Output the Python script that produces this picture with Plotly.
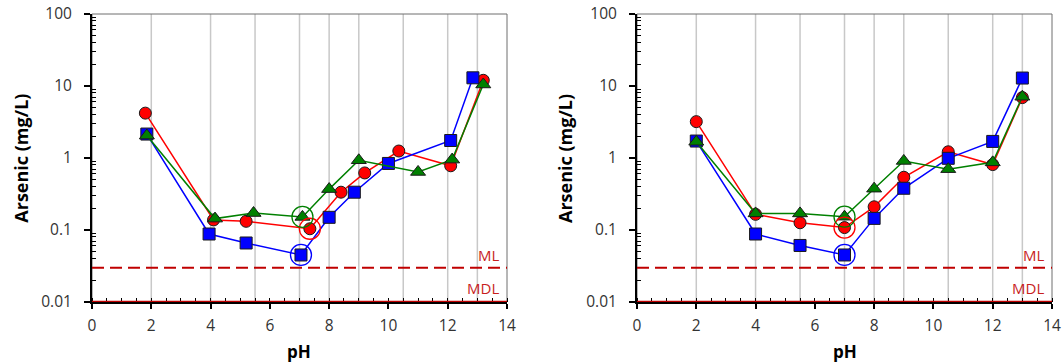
import plotly.graph_objects as go

# ---------------- data ----------------
# left panel
red_ph_L = [1.8, 4.1, 5.2, 7.35, 8.4, 9.2, 10.35, 12.1, 13.2]
red_as_L = [4.2, 0.138, 0.132, 0.104, 0.335, 0.62, 1.25, 0.78, 12.0]
blue_ph_L = [1.85, 3.95, 5.2, 7.05, 8.0, 8.85, 10.0, 12.1, 12.85]
blue_as_L = [2.15, 0.088, 0.066, 0.045, 0.15, 0.335, 0.84, 1.75, 13.0]
green_ph_L = [1.85, 4.15, 5.45, 7.1, 8.0, 9.0, 11.0, 12.15, 13.2]
green_as_L = [2.05, 0.144, 0.172, 0.152, 0.37, 0.93, 0.64, 0.95, 10.5]

# right panel
ph_R = [2, 4, 5.5, 7, 8, 9, 10.5, 12, 13]
red_as_R = [3.2, 0.165, 0.126, 0.108, 0.21, 0.54, 1.22, 0.81, 6.9]
blue_as_R = [1.72, 0.088, 0.061, 0.045, 0.145, 0.38, 0.99, 1.70, 12.9]
green_as_R = [1.68, 0.17, 0.17, 0.153, 0.375, 0.91, 0.70, 0.87, 7.1]

# highlighted point (ringed) index in each series
ring_idx = 3

# target pH grid lines
grid_ph = [2, 4, 5.5, 7, 8, 9, 10.5, 12, 13]

ML = 0.03
MDL = 0.01

x_ticks = [0, 2, 4, 6, 8, 10, 12, 14]
y_ticks = [0.01, 0.1, 1, 10, 100]
y_ticktext = ["0.01", "0.1", "1", "10", "100"]

# ---------------- styling ----------------
FONT = "Open Sans"
RED = "#ff0000"
BLUE = "#0000ff"
GREEN = "#008000"
LINE_RED = "#c00000"
LABEL_RED = "#c81e1e"

fig = go.Figure()

panels = [
    ("x", "y", [(red_ph_L, red_as_L, RED, "circle"),
                (blue_ph_L, blue_as_L, BLUE, "square"),
                (green_ph_L, green_as_L, GREEN, "triangle-up")]),
    ("x2", "y2", [(ph_R, red_as_R, RED, "circle"),
                  (ph_R, blue_as_R, BLUE, "square"),
                  (ph_R, green_as_R, GREEN, "triangle-up")]),
]

for xa, ya, series in panels:
    for xs, ys, col, sym in series:
        fig.add_trace(go.Scatter(
            x=xs, y=ys, xaxis=xa, yaxis=ya, mode="lines+markers",
            line=dict(color=col, width=1.5),
            marker=dict(symbol=sym, size=12 if sym != "triangle-up" else 13,
                        color=col, line=dict(color="#1a1a1a", width=1)),
            showlegend=False, cliponaxis=False))
    for xs, ys, col, sym in series:
        fig.add_trace(go.Scatter(
            x=[xs[ring_idx]], y=[ys[ring_idx]], xaxis=xa, yaxis=ya, mode="markers",
            marker=dict(symbol="circle-open", size=21, color=col,
                        line=dict(color=col, width=1.3)),
            showlegend=False, cliponaxis=False))

shapes = []
annotations = []
for xa, ya, xd, yd in [("x", "y", "x domain", "y domain"), ("x2", "y2", "x2 domain", "y2 domain")]:
    for g in grid_ph:
        shapes.append(dict(type="line", xref=xa, yref=yd, x0=g, x1=g, y0=0, y1=1,
                           line=dict(color="#c8c8c8", width=1.5), layer="below"))
    shapes.append(dict(type="rect", xref=xd, yref=yd, x0=0, x1=1, y0=0, y1=1,
                       line=dict(color="#6e6e6e", width=1), layer="below"))
    shapes.append(dict(type="line", xref=xd, yref=ya, x0=0, x1=1, y0=ML, y1=ML,
                       line=dict(color=LINE_RED, width=2, dash="12px,6px"), layer="above"))
    shapes.append(dict(type="line", xref=xd, yref=ya, x0=0, x1=1, y0=MDL, y1=MDL,
                       line=dict(color=LINE_RED, width=2.5), layer="above"))
    annotations.append(dict(xref=xd, yref=ya, x=0.9855, y=-1.347, text="ML", showarrow=False,
                            xanchor="right", yanchor="middle",
                            font=dict(family=FONT, size=15, color=LABEL_RED)))
    annotations.append(dict(xref=xd, yref=ya, x=0.9855, y=-1.81, text="MDL", showarrow=False,
                            xanchor="right", yanchor="middle",
                            font=dict(family=FONT, size=15, color=LABEL_RED)))

# axis titles (paper coords relative to plot area: l=92, t=14, width 960, height 288)
for xc, ytx in [(-0.0743, 0.2161), (0.4927, 0.7839)]:
    annotations.append(dict(xref="paper", yref="paper", x=xc, y=0.5, text="<b>Arsenic (mg/L)</b>",
                            textangle=-90, showarrow=False, xanchor="center", yanchor="middle",
                            font=dict(family=FONT, size=18, color="black")))
    annotations.append(dict(xref="paper", yref="paper", x=ytx, y=-0.172, text="<b>pH</b>",
                            showarrow=False, xanchor="center", yanchor="middle",
                            font=dict(family=FONT, size=17, color="black")))

TICKFONT = dict(family=FONT, size=15.5, color="#333333")
xaxis_common = dict(range=[0, 14], tickmode="array", tickvals=x_ticks, ticks="outside",
                    ticklen=5, tickwidth=1.5, tickcolor="black", showgrid=False,
                    showline=True, linecolor="black", linewidth=2, zeroline=False,
                    automargin=False, ticklabeloverflow="allow", ticklabelstandoff=3,
                    tickfont=TICKFONT,
                    minor=dict(ticks="inside", ticklen=4, tickwidth=1, tickcolor="black",
                               dtick=0.5, showgrid=False))
minor_y = [m * 10 ** e for e in range(-2, 2) for m in range(2, 10)]
yaxis_common = dict(type="log", range=[-2, 2], tickmode="array", tickvals=y_ticks,
                    ticktext=y_ticktext, ticks="outside", ticklen=6, tickwidth=1.5,
                    tickcolor="black", showgrid=False, showline=True, linecolor="black",
                    linewidth=2, zeroline=False, automargin=False,
                    ticklabeloverflow="allow", ticklabelstandoff=9,
                    tickfont=TICKFONT,
                    minor=dict(ticks="inside", ticklen=4, tickwidth=1, tickcolor="black",
                               tickmode="array", tickvals=minor_y, showgrid=False))

fig.update_layout(
    template="none",
    width=1063, height=364,
    margin=dict(l=92, r=11, t=14, b=62, autoexpand=False),
    paper_bgcolor="white", plot_bgcolor="white",
    xaxis=dict(domain=[0, 415 / 960], anchor="y", **xaxis_common),
    yaxis=dict(domain=[0, 1], anchor="x", **yaxis_common),
    xaxis2=dict(domain=[545 / 960, 1], anchor="y2", **xaxis_common),
    yaxis2=dict(domain=[0, 1], anchor="x2", **yaxis_common),
    shapes=shapes, annotations=annotations,
    showlegend=False,
)

fig.write_html(
    "out.html",
    config={"displayModeBar": False},
    post_script="document.body.style.margin='0';document.body.style.overflow='hidden';",
)
